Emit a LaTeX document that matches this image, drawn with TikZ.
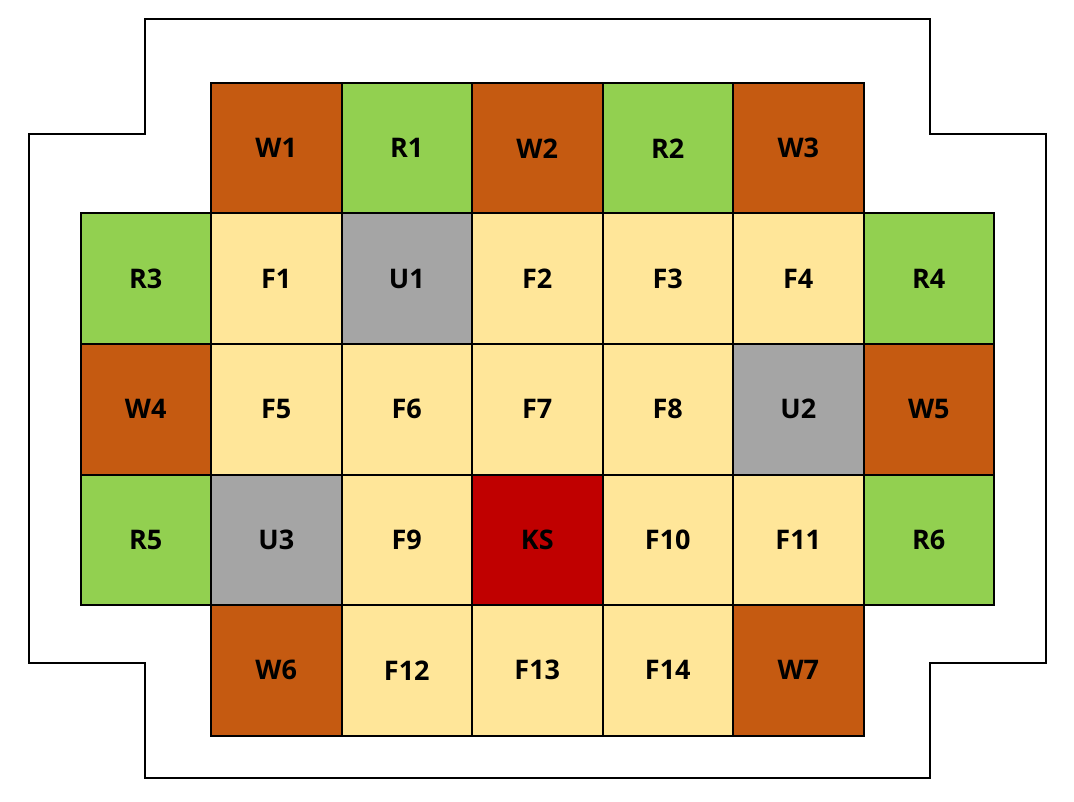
\documentclass[tikz,border=0pt]{standalone}
\usepackage{fontspec}
\setmainfont{Open Sans}
\definecolor{cbrown}{HTML}{C55A11}
\definecolor{cgreen}{HTML}{92D050}
\definecolor{cyel}{HTML}{FFE699}
\definecolor{cgray}{HTML}{A5A5A5}
\definecolor{cred}{HTML}{C00000}
\begin{document}
\begin{tikzpicture}[x=1pt,y=-1pt,
  cell/.style={draw=black,line width=2pt,minimum width=130.5pt,minimum height=130.5pt,inner sep=0pt,anchor=north west,font=\fontsize{27}{30}\selectfont\bfseries,text=black},
  W/.style={cell,fill=cbrown},
  R/.style={cell,fill=cgreen},
  F/.style={cell,fill=cyel},
  U/.style={cell,fill=cgray},
  K/.style={cell,fill=cred},
  outline/.style={draw=black,line width=2pt}]
\useasboundingbox (0,0) rectangle (1074,802);
\draw[outline] (145,19) -- (930,19) -- (930,134) -- (1046,134) -- (1046,663) -- (930,663) -- (930,778) -- (145,778) -- (145,663) -- (29,663) -- (29,134) -- (145,134) -- cycle;
\def\cw{130.5}
\foreach \st/\lab/\c/\r in {
  W/W1/1/0, R/R1/2/0, W/W2/3/0, R/R2/4/0, W/W3/5/0,
  R/R3/0/1, F/F1/1/1, U/U1/2/1, F/F2/3/1, F/F3/4/1, F/F4/5/1, R/R4/6/1,
  W/W4/0/2, F/F5/1/2, F/F6/2/2, F/F7/3/2, F/F8/4/2, U/U2/5/2, W/W5/6/2,
  R/R5/0/3, U/U3/1/3, F/F9/2/3, K/KS/3/3, F/F10/4/3, F/F11/5/3, R/R6/6/3,
  W/W6/1/4, F/F12/2/4, F/F13/3/4, F/F14/4/4, W/W7/5/4}
  \node[\st] (n\lab) at ({79.5+\c*\cw},{82+\r*\cw}) {\lab};
\end{tikzpicture}
\end{document}
